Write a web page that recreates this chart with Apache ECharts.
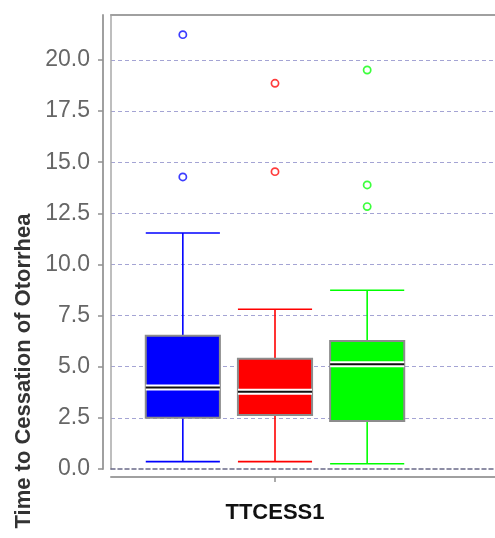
<!DOCTYPE html>
<html>
<head>
<meta charset="utf-8">
<script src="https://cdn.jsdelivr.net/npm/echarts@6/dist/echarts.min.js"></script>
<style>
  html, body { margin: 0; padding: 0; background: #ffffff; }
  #chart { width: 495px; height: 538px; }
</style>
</head>
<body>
<div id="chart"></div>
<script>
// Box-and-whisker summary of time to cessation of otorrhea, three groups
const categories = ['TTCESS1'];
const groupNames = ['Group 1', 'Group 2', 'Group 3'];
const lowerWhisker = [0.36, 0.36, 0.26];
const q1Values = [2.51, 2.64, 2.35];
const medianValues = [3.99, 3.78, 5.12];
const q3Values = [6.52, 5.39, 6.26];
const upperWhisker = [11.54, 7.81, 8.74];
const outlierValues = [
  [21.24, 14.28],
  [18.86, 14.54],
  [19.51, 13.89, 12.83]
];
const yTicks = [0, 2.5, 5, 7.5, 10, 12.5, 15, 17.5, 20];

const groupColors = ['#0000ff', '#ff0000', '#00ff00'];
const outlierColors = ['#3c3cff', '#ff3c3c', '#3cff3c'];

const Y_MIN = 0, Y_MAX = 22.2, Y_STEP = yTicks[1] - yTicks[0];

const boxRows = groupNames.map((name, g) => [
  0, lowerWhisker[g], q1Values[g], medianValues[g], q3Values[g], upperWhisker[g], g
]);
const outlierRows = [];
outlierValues.forEach((list, g) => list.forEach(v => outlierRows.push([0, v, g])));

// horizontal position of a group's box inside the category band
function groupX(api, g) {
  const band = api.size([1, 0])[0];
  const center = api.coord([0, 0])[0];
  return { cx: center + (g - 1) * band * 0.281, boxW: band * 0.226 };
}

function renderBox(params, api) {
  const g = api.value(6);
  const { cx, boxW } = groupX(api, g);
  const half = boxW / 2;
  const y = i => api.coord([0, api.value(i)])[1];
  const yLow = y(1), yQ1 = y(2), yMed = y(3), yQ3 = y(4), yHigh = y(5);
  const color = groupColors[g];
  const whisker = { stroke: color, lineWidth: 1.6 };
  return {
    type: 'group',
    children: [
      { type: 'line', shape: { x1: cx, y1: yHigh, x2: cx, y2: yQ3 }, style: whisker },
      { type: 'line', shape: { x1: cx, y1: yQ1, x2: cx, y2: yLow }, style: whisker },
      { type: 'line', shape: { x1: cx - half, y1: yHigh, x2: cx + half, y2: yHigh }, style: whisker },
      { type: 'line', shape: { x1: cx - half, y1: yLow, x2: cx + half, y2: yLow }, style: whisker },
      { type: 'rect', shape: { x: cx - half, y: yQ3, width: boxW, height: yQ1 - yQ3 },
        style: { fill: color, stroke: '#8c8c8c', lineWidth: 2 } },
      { type: 'line', shape: { x1: cx - half, y1: yMed, x2: cx + half, y2: yMed },
        style: { stroke: '#ffffff', lineWidth: 6 } },
      { type: 'line', shape: { x1: cx - half, y1: yMed, x2: cx + half, y2: yMed },
        style: { stroke: '#111111', lineWidth: 2 } }
    ]
  };
}

function renderOutlier(params, api) {
  const g = api.value(2);
  const { cx } = groupX(api, g);
  const cy = api.coord([0, api.value(1)])[1];
  return {
    type: 'circle',
    shape: { cx: cx, cy: cy, r: 3.6 },
    style: { fill: 'none', stroke: outlierColors[g], lineWidth: 1.7 }
  };
}

const grayLine = { color: '#a0a0a0', width: 2 };

const option = {
  backgroundColor: '#ffffff',
  animation: false,
  grid: [
    { left: 111, top: 15, width: 420, bottom: 69 },
    { left: 111, top: 15, width: 328, bottom: 69 }
  ],
  xAxis: [
    { // lower axis line across the whole frame
      gridIndex: 0, type: 'category', data: [''], position: 'bottom', offset: 8,
      axisLine: { show: true, onZero: false, lineStyle: grayLine },
      axisTick: { show: false }, axisLabel: { show: false }, splitLine: { show: false }
    },
    { // top edge of the plot frame
      gridIndex: 0, type: 'category', data: [''], position: 'top', offset: 0,
      axisLine: { show: true, onZero: false, lineStyle: grayLine },
      axisTick: { show: false }, axisLabel: { show: false }, splitLine: { show: false }
    },
    { // bottom edge of the plot frame
      gridIndex: 0, type: 'category', data: [''], position: 'bottom', offset: 0,
      axisLine: { show: true, onZero: false, lineStyle: { color: '#6a6a88', width: 1.5, type: [4, 3] } },
      axisTick: { show: false }, axisLabel: { show: false }, splitLine: { show: false }
    },
    { // category axis carrying the boxes
      gridIndex: 1, type: 'category', data: categories, position: 'bottom', offset: 8,
      axisLine: { show: false, onZero: false },
      axisTick: { show: true, alignWithLabel: true, length: 5, lineStyle: { color: '#909090', width: 1.5 } },
      axisLabel: {
        show: true, margin: 25, color: '#111111',
        fontFamily: 'Liberation Sans', fontWeight: 'bold', fontSize: 22
      },
      splitLine: { show: false }
    }
  ],
  yAxis: [
    {
      gridIndex: 0, type: 'value', position: 'left', min: Y_MIN, max: Y_MAX, interval: Y_STEP, offset: 8,
      axisLine: { show: true, onZero: false, lineStyle: grayLine },
      axisTick: { show: true, inside: false, length: 5, lineStyle: { color: '#909090', width: 1.5 } },
      axisLabel: {
        margin: 13, color: '#666666', fontFamily: 'Liberation Sans', fontSize: 23,
        showMaxLabel: false,
        formatter: v => v.toFixed(1)
      },
      splitLine: {
        show: true, showMinLine: false, showMaxLine: false,
        lineStyle: { color: '#a4a4d4', width: 1.2, type: [4, 3] }
      }
    },
    { // left edge of the plot frame
      gridIndex: 0, type: 'value', position: 'left', min: Y_MIN, max: Y_MAX, interval: Y_STEP, offset: 0,
      axisLine: { show: true, onZero: false, lineStyle: { color: '#a8a8a8', width: 1.5 } },
      axisTick: { show: false }, axisLabel: { show: false }, splitLine: { show: false }
    },
    {
      gridIndex: 1, type: 'value', position: 'left', min: Y_MIN, max: Y_MAX, interval: Y_STEP, show: false,
      splitLine: { show: false }
    }
  ],
  graphic: [
    {
      type: 'text', x: 24, y: 371, rotation: Math.PI / 2,
      style: {
        text: 'Time to Cessation of Otorrhea',
        fontFamily: 'Liberation Sans', fontWeight: 'bold', fontSize: 22,
        fill: '#333333', align: 'center', verticalAlign: 'middle'
      }
    }
  ],
  series: [
    {
      type: 'custom', name: 'boxes', xAxisIndex: 3, yAxisIndex: 2,
      renderItem: renderBox, data: boxRows, clip: false
    },
    {
      type: 'custom', name: 'outliers', xAxisIndex: 3, yAxisIndex: 2,
      renderItem: renderOutlier, data: outlierRows, clip: false
    }
  ]
};

const chart = echarts.init(document.getElementById('chart'), null, { renderer: 'canvas' });
chart.setOption(option);
</script>
</body>
</html>
